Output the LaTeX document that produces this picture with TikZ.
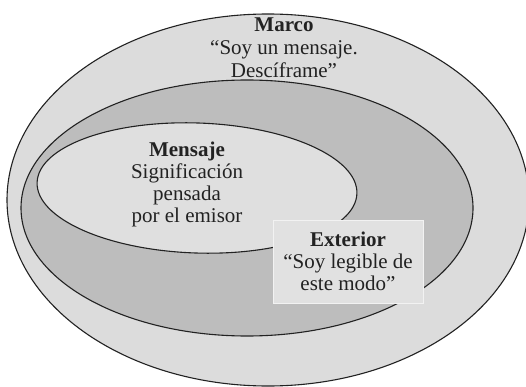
\documentclass[tikz,border=0pt]{standalone}
\usepackage{fontspec}
\setmainfont{Liberation Serif}
\definecolor{outerfill}{HTML}{DCDCDC}
\definecolor{midfill}{HTML}{BDBDBD}
\definecolor{innerfill}{HTML}{DFDFDF}
\definecolor{boxfill}{HTML}{E1E1E1}
\definecolor{ink}{HTML}{222222}
\tikzset{
  ring/.style={draw=ink, line width=1.1pt},
  lbl/.style={align=center, text=ink, font=\fontsize{21}{22}\selectfont, inner sep=0pt},
  extbox/.style={draw=white!90!gray, line width=0.8pt, fill=boxfill, minimum width=150pt, minimum height=83pt, inner sep=0pt}
}
\begin{document}
\begin{tikzpicture}[x=1pt,y=-1pt]
\useasboundingbox (0,0) rectangle (526,387);
\clip (0,0) rectangle (526,387);
\fill[white] (0,0) rectangle (526,387);
\draw[ring, fill=outerfill] (268,200) ellipse [x radius=261, y radius=186];
\draw[ring, fill=midfill] (247,208) ellipse [x radius=226, y radius=128];
\draw[ring, fill=innerfill, rotate around={-2:(197,188)}] (197,188) ellipse [x radius=160, y radius=65];
\node[extbox] (ext) at (348,261.5) {};
\node[lbl, font=\fontsize{21}{23}\selectfont] (marco) at (284,48) {\textbf{Marco}\\“Soy un mensaje.\\Descíframe”};
\node[lbl] (mensaje) at (187,184) {\textbf{Mensaje}\\Significación\\pensada\\por el emisor};
\node[lbl] (exterior) at (ext.center) {\textbf{Exterior}\\“Soy legible de\\este modo”};
\end{tikzpicture}
\end{document}
